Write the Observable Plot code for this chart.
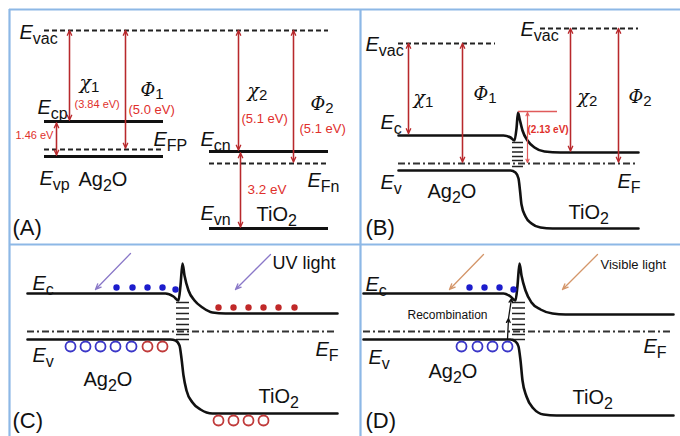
<!DOCTYPE html>
<html><head><meta charset="utf-8">
<script src="https://cdn.jsdelivr.net/npm/d3@7"></script>
<script src="https://cdn.jsdelivr.net/npm/@observablehq/plot@0.6"></script>
<style>body{margin:0;background:#fff}</style>
</head><body><div id="chart"></div>
<script>
// ---- Diagram data (diagram units: x to the right, y downward) ----
const frameV = [{x: 9, y1: 9, y2: 436}, {x: 360, y1: 9, y2: 436}];
const frameH = [{y: 9, x1: 9, x2: 680}, {y: 244, x1: 9, x2: 680}];

// solid flat energy levels (panel A) : x1, x2, y
const levelsSolid = [
  {x1: 44, x2: 163, y: 121}, {x1: 44, x2: 163, y: 156},
  {x1: 209, x2: 328, y: 151}, {x1: 209, x2: 328, y: 228}
];
// dashed levels (vacuum, Fermi in A)
const levelsDashed = [
  {x1: 44, x2: 328, y: 30}, {x1: 44, x2: 163, y: 149}, {x1: 209, x2: 328, y: 163},
  {x1: 398, x2: 495, y: 43}, {x1: 540, x2: 638, y: 28}
];
// dash-dot Fermi levels (B, C, D)
const levelsDashDot = [
  {x1: 398, x2: 638, y: 163}, {x1: 27, x2: 337, y: 331}, {x1: 363, x2: 673, y: 331}
];

// bent bands
const bandB_Ec = [[398,135],[503,135],[510,137],[514,140],[516,128],[517.5,112],[519,118],[522,130],[527,140],[534,147],[544,151],[560,152],[638,152]];
const bandB_Ev = [[398,170],[510,170],[515,172],[518,178],[519.5,190],[521,204],[525,216],[531,223],[540,227],[552,228],[638,228]];
const bandC_Ec = [[27,293],[165,293],[173,296],[178,300],[180,285],[182,263],[184,275],[188,290],[194,300],[202,307],[212,312],[225,313],[337,313]];
const bandC_Ev = [[27,339],[170,339],[175,340],[179,345],[181,358],[183,375],[186,390],[192,402],[200,409],[212,413],[337,413]];
const bandD_Ec = [[363,293],[503,293],[510,296],[515,300],[517,285],[519,263],[521,275],[525,290],[531,302],[540,309],[552,313],[565,314],[673,314]];
const bandD_Ev = [[363,339],[510,339],[515,341],[518,346],[520,360],[522,380],[526,396],[533,408],[543,414],[556,415],[673,415]];

// interface states
const statesB = {x1: 512, x2: 523, ys: [142, 147, 151.5, 156, 160, 166]};
const statesC = {x1: 176, x2: 189, ys: [302, 307.5, 313, 318.5, 324, 329, 334, 339]};
const statesD = {x1: 512, x2: 525, ys: [302, 307.5, 313, 318.5, 324, 329, 334, 339]};

// red double-headed energy arrows: x, top, bottom
const energyArrows = [
  {x: 69, y1: 30, y2: 119.5}, {x: 125, y1: 30, y2: 147.5}, {x: 56, y1: 122.5, y2: 154.5},
  {x: 238, y1: 30, y2: 149.5}, {x: 293, y1: 30, y2: 161.5}, {x: 240, y1: 152.5, y2: 226.5},
  {x: 408, y1: 43, y2: 133}, {x: 462, y1: 43, y2: 161.5},
  {x: 570, y1: 28, y2: 150.5}, {x: 618, y1: 28, y2: 161.5}
];
const barrierArrow = {x: 527, y1: 112, y2: 162};
const barrierLine = {x1: 518, x2: 557, y: 111};

// electrons / holes
const electronsBlue = [[116,287],[132,287],[147,287],[162,287],[175,289],[469,287],[484,287],[499,287],[513,289]];
const electronsRed = [[218,307],[233,307],[248,307],[263,307],[278,307],[294,307]];
const holesBlue = [[70,346],[85,346],[100,346],[115,346],[131,346],[461,346],[477,346],[492,346],[507,346]];
const holesRed = [[147,346],[162,346],[218,420],[233,420],[248,420],[263,420]];

// light arrows: from (x1,y1) to (x2,y2)
const uvArrows = [[130,253,95,289],[270,254,235,289]];
const visArrows = [[483,254,449,289],[597,254,562,289]];
const recombArrows = [[507,339,508,318],[508,318,511,298]];

// text labels: x, baseline y, size, parts [text, kind]  (i = italic, g = greek, s = subscript, n = normal)
const labelsBlack = [
  {x: 19, y: 38, size: 20, parts: [["E","i"],["vac","s"]]},
  {x: 37, y: 113, size: 20, parts: [["E","i"],["cp","s"]]},
  {x: 153, y: 145, size: 20, parts: [["E","i"],["FP","s"]]},
  {x: 39, y: 184, size: 20, parts: [["E","i"],["vp","s"]]},
  {x: 200, y: 145, size: 20, parts: [["E","i"],["cn","s"]]},
  {x: 307, y: 186, size: 20, parts: [["E","i"],["Fn","s"]]},
  {x: 200, y: 219, size: 20, parts: [["E","i"],["vn","s"]]},
  {x: 79, y: 88, size: 19, parts: [["χ","g"],["1","s"]]},
  {x: 140, y: 95, size: 18, parts: [["Φ","g"],["1","s"]]},
  {x: 247, y: 96, size: 19, parts: [["χ","g"],["2","s"]]},
  {x: 310, y: 109, size: 18, parts: [["Φ","g"],["2","s"]]},
  {x: 78, y: 185, size: 20, parts: [["Ag","n"],["2","s"],["O","n"]]},
  {x: 256, y: 220, size: 20, parts: [["TiO","n"],["2","s"]]},
  {x: 12, y: 234, size: 22, parts: [["(A)","n"]]},

  {x: 365, y: 50, size: 20, parts: [["E","i"],["vac","s"]]},
  {x: 520, y: 35, size: 20, parts: [["E","i"],["vac","s"]]},
  {x: 380, y: 128, size: 20, parts: [["E","i"],["c","s"]]},
  {x: 380, y: 188, size: 20, parts: [["E","i"],["v","s"]]},
  {x: 617, y: 187, size: 20, parts: [["E","i"],["F","s"]]},
  {x: 413, y: 103, size: 19, parts: [["χ","g"],["1","s"]]},
  {x: 473, y: 99, size: 18, parts: [["Φ","g"],["1","s"]]},
  {x: 577, y: 102, size: 19, parts: [["χ","g"],["2","s"]]},
  {x: 628, y: 102, size: 18, parts: [["Φ","g"],["2","s"]]},
  {x: 427, y: 197, size: 20, parts: [["Ag","n"],["2","s"],["O","n"]]},
  {x: 568, y: 218, size: 20, parts: [["TiO","n"],["2","s"]]},
  {x: 365, y: 234, size: 22, parts: [["(B)","n"]]},

  {x: 32, y: 289, size: 20, parts: [["E","i"],["c","s"]]},
  {x: 32, y: 361, size: 20, parts: [["E","i"],["v","s"]]},
  {x: 315, y: 355, size: 20, parts: [["E","i"],["F","s"]]},
  {x: 272, y: 268, size: 18, parts: [["UV light","n"]]},
  {x: 83, y: 385, size: 20, parts: [["Ag","n"],["2","s"],["O","n"]]},
  {x: 258, y: 402, size: 20, parts: [["TiO","n"],["2","s"]]},
  {x: 12, y: 427, size: 22, parts: [["(C)","n"]]},

  {x: 365, y: 290, size: 20, parts: [["E","i"],["c","s"]]},
  {x: 368, y: 363, size: 20, parts: [["E","i"],["v","s"]]},
  {x: 643, y: 352, size: 20, parts: [["E","i"],["F","s"]]},
  {x: 600, y: 268, size: 13, parts: [["Visible light","n"]]},
  {x: 407, y: 318, size: 12, parts: [["Recombination","n"]]},
  {x: 428, y: 377, size: 20, parts: [["Ag","n"],["2","s"],["O","n"]]},
  {x: 572, y: 403, size: 20, parts: [["TiO","n"],["2","s"]]},
  {x: 365, y: 427, size: 22, parts: [["(D)","n"]]}
];
const labelsRed = [
  {x: 74, y: 107, size: 11, parts: [["(3.84 eV)","n"]]},
  {x: 128, y: 113, size: 13, parts: [["(5.0 eV)","n"]]},
  {x: 15, y: 138, size: 11, parts: [["1.46 eV","n"]]},
  {x: 241, y: 122, size: 13, parts: [["(5.1 eV)","n"]]},
  {x: 299, y: 132, size: 13, parts: [["(5.1 eV)","n"]]},
  {x: 247, y: 193, size: 13.5, parts: [["3.2 eV","n"]]},
  {x: 527, y: 132, size: 10, weight: "bold", parts: [["(2.13 eV)","n"]]}
];

// ---- layout helpers ----
const SANS = '"Liberation Sans", Arial, sans-serif';
const SERIF = '"DejaVu Serif", "Liberation Serif", serif';
const ctx = document.createElement("canvas").getContext("2d");
function measure(t, style, weight, size, fam) { ctx.font = `${style} ${weight} ${size}px ${fam}`; return ctx.measureText(t).width; }
function layout(labels, color) {
  const out = [];
  for (const L of labels) {
    let cx = L.x;
    const greek = L.parts.some(p => p[1] === "g");
    for (const [t, kind] of L.parts) {
      let size = L.size, style = "normal", fam = SANS, dy = 0, weight = L.weight || "normal";
      if (kind === "i") style = "italic";
      if (kind === "g") { style = "italic"; fam = SERIF; }
      if (kind === "s") { size = greek ? 15 : L.size * 0.8; dy = greek ? 3 : L.size * 0.28; }
      out.push({x: cx, y: L.y + dy, text: t, size, style, fam, weight, color});
      cx += measure(t, style, weight, size, fam);
    }
  }
  return out;
}
const pieces = [...layout(labelsBlack, "#111"), ...layout(labelsRed, "#e0302c")];
const textMarks = d3.groups(pieces, d => d.style + "|" + d.fam + "|" + d.weight).map(([, arr]) =>
  Plot.text(arr, {x: "x", y: "y", text: "text", fontSize: d => d.size, fill: d => d.color,
    textAnchor: "start", lineAnchor: "bottom", fontStyle: arr[0].style, fontFamily: arr[0].fam, fontWeight: arr[0].weight}));

const bands = [["B_Ec", bandB_Ec], ["B_Ev", bandB_Ev], ["C_Ec", bandC_Ec], ["C_Ev", bandC_Ev], ["D_Ec", bandD_Ec], ["D_Ev", bandD_Ev]]
  .flatMap(([id, pts]) => pts.map(([x, y]) => ({id, x, y})));
const states = [statesB, statesC, statesD].flatMap(s => s.ys.map(y => ({x1: s.x1, x2: s.x2, y})));
const dblArrows = energyArrows.flatMap(a => [{x1: a.x, y1: a.y1, x2: a.x, y2: a.y2}, {x1: a.x, y1: a.y2, x2: a.x, y2: a.y1}]);
const barrier = [{x1: barrierArrow.x, y1: barrierArrow.y1, x2: barrierArrow.x, y2: barrierArrow.y2}, {x1: barrierArrow.x, y1: barrierArrow.y2, x2: barrierArrow.x, y2: barrierArrow.y1}];
const seg = a => a.map(([x1, y1, x2, y2]) => ({x1, y1, x2, y2}));
const pt = a => a.map(([x, y]) => ({x, y}));

const chart = Plot.plot({
  width: 680, height: 436, margin: 0,
  x: {domain: [0, 680], axis: null},
  y: {domain: [436, 0], axis: null},
  style: {background: "#fff", fontFamily: SANS},
  marks: [
    Plot.ruleX(frameV, {x: "x", y1: "y1", y2: "y2", stroke: "#8db8e6", strokeWidth: 2.2}),
    Plot.ruleY(frameH, {y: "y", x1: "x1", x2: "x2", stroke: "#8db8e6", strokeWidth: 2.2}),
    Plot.ruleY(levelsDashed, {y: "y", x1: "x1", x2: "x2", stroke: "#222", strokeWidth: 2, strokeDasharray: "5,3"}),
    Plot.ruleY(levelsDashDot, {y: "y", x1: "x1", x2: "x2", stroke: "#333", strokeWidth: 1.8, strokeDasharray: "7,3,2,3"}),
    Plot.ruleY(levelsSolid, {y: "y", x1: "x1", x2: "x2", stroke: "#111", strokeWidth: 3.2}),
    Plot.ruleY(states, {y: "y", x1: "x1", x2: "x2", stroke: "#222", strokeWidth: 1.5}),
    Plot.line(bands, {x: "x", y: "y", z: "id", curve: "monotone-x", stroke: "#111", strokeWidth: 2.6}),
    Plot.arrow(dblArrows, {x1: "x1", y1: "y1", x2: "x2", y2: "y2", stroke: "#b8282c", strokeWidth: 1.3, headLength: 6, headAngle: 50}),
    Plot.ruleY([barrierLine], {y: "y", x1: "x1", x2: "x2", stroke: "#e05a5a", strokeWidth: 1.3}),
    Plot.arrow(barrier, {x1: "x1", y1: "y1", x2: "x2", y2: "y2", stroke: "#e05a5a", strokeWidth: 1.1, headLength: 5, headAngle: 50}),
    Plot.arrow(seg(uvArrows), {x1: "x1", y1: "y1", x2: "x2", y2: "y2", stroke: "#8a78c8", strokeWidth: 1.3, headLength: 7, headAngle: 45}),
    Plot.arrow(seg(visArrows), {x1: "x1", y1: "y1", x2: "x2", y2: "y2", stroke: "#d4966a", strokeWidth: 1.3, headLength: 7, headAngle: 45}),
    Plot.arrow(seg(recombArrows), {x1: "x1", y1: "y1", x2: "x2", y2: "y2", stroke: "#111", strokeWidth: 1.3, headLength: 5, headAngle: 50}),
    Plot.dot(pt(electronsBlue), {x: "x", y: "y", r: 3.2, fill: "#1c1ccc", stroke: "none"}),
    Plot.dot(pt(electronsRed), {x: "x", y: "y", r: 3.2, fill: "#c02828", stroke: "none"}),
    Plot.dot(pt(holesBlue), {x: "x", y: "y", r: 5, fill: "#fff", stroke: "#3a36c8", strokeWidth: 1.8}),
    Plot.dot(pt(holesRed), {x: "x", y: "y", r: 5, fill: "#fff", stroke: "#c03a3a", strokeWidth: 1.8}),
    ...textMarks
  ]
});
document.getElementById("chart").append(chart);
</script></body></html>
